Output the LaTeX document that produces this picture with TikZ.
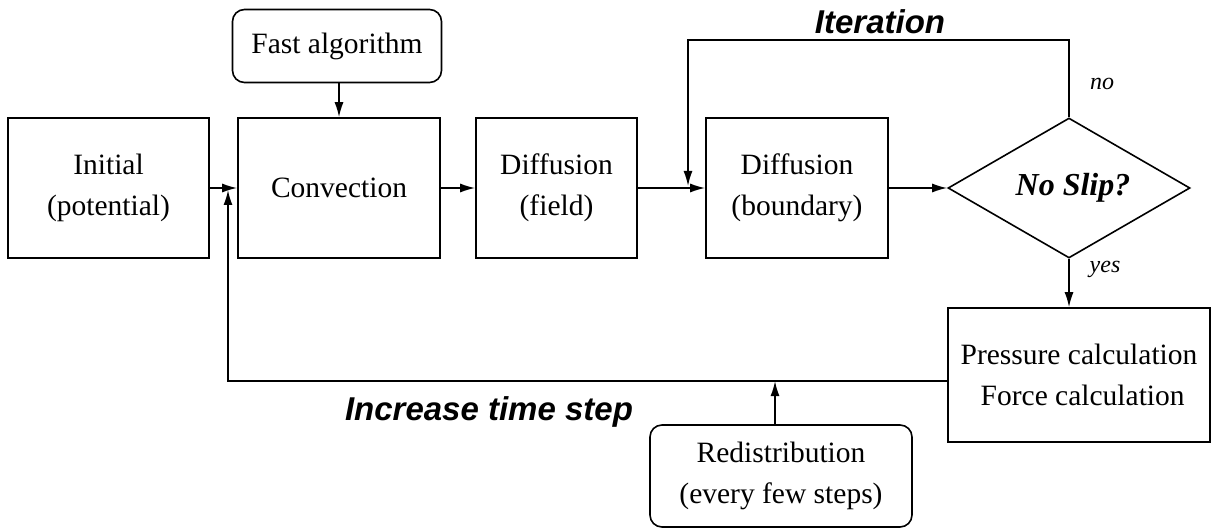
\documentclass[tikz,border=0pt]{standalone}
\usepackage{fontspec}
\setmainfont{Liberation Serif}
\setsansfont{Liberation Sans}
\usetikzlibrary{shapes.geometric,arrows.meta}
\begin{document}
\begin{tikzpicture}[x=1pt,y=-1pt,
  every node/.style={font=\fontsize{29.5}{41}\selectfont, align=center, inner sep=0pt},
  box/.style={draw, line width=1.6pt, rectangle},
  rbox/.style={draw, line width=1.6pt, rectangle, rounded corners=12pt},
  dia/.style={draw, line width=1.6pt, diamond, aspect=1.73},
  lab/.style={font=\fontsize{33}{38}\selectfont\sffamily\bfseries\itshape},
  small/.style={font=\fontsize{24}{28}\selectfont\itshape},
  arr/.style={line width=1.6pt, -{Latex[length=15pt,width=9pt]}},
  ln/.style={line width=1.6pt}]
\useasboundingbox (0,0) rectangle (1217,529);
\node[box, minimum width=201pt, minimum height=140pt] (init) at (108.5,188) {Initial\\(potential)};
\node[box, minimum width=202pt, minimum height=140pt] (conv) at (339,188) {Convection};
\node[rbox, minimum width=209pt, minimum height=73pt] (fast) at (337,46) {Fast algorithm};
\node[box, minimum width=161pt, minimum height=140pt] (dfield) at (556.5,188) {Diffusion\\(field)};
\node[box, minimum width=182pt, minimum height=140pt] (dbound) at (797,188) {Diffusion\\(boundary)};
\node[dia, minimum width=242pt, minimum height=140pt, font=\fontsize{32}{38}\selectfont\bfseries\itshape] (slip) at (1069,188) {\kern8pt No Slip?};
\node[box, minimum width=262pt, minimum height=134pt] (press) at (1079,375) {Pressure calculation\\\ Force calculation};
\node[rbox, minimum width=262pt, minimum height=102pt] (redis) at (781,476) {Redistribution\\(every few steps)};
\coordinate (it1) at (1069,40);
\coordinate (it2) at (688,40);
\coordinate (itend) at (688,186);
\coordinate (fb1) at (228,381);
\coordinate (fbend) at (228,190);
\coordinate (rd) at (775,381);

\draw[arr] (init.east) -- (conv.west);
\draw[arr] (fast.south -| conv.north) -- (conv.north);
\draw[arr] (conv.east) -- (dfield.west);
\draw[arr] (dfield.east) -- (dbound.west);
\draw[arr] (dbound.east) -- (slip.west);
\draw[arr] (slip.south) -- (slip.south |- press.north);
\draw[arr] (slip.north) -- (it1) -- (it2) -- (itend);
\draw[arr] (press.west |- fb1) -- (fb1) -- (fbend);
\draw[arr] (redis.north -| rd) -- (rd);

\node[lab] (itlab) at (880,22) {Iteration};
\node[lab] (tslab) at (489,412) {Increase time step};
\node[small] (no) at (1102,84) {no};
\node[small] (yes) at (1105,269) {yes};
\end{tikzpicture}
\end{document}
